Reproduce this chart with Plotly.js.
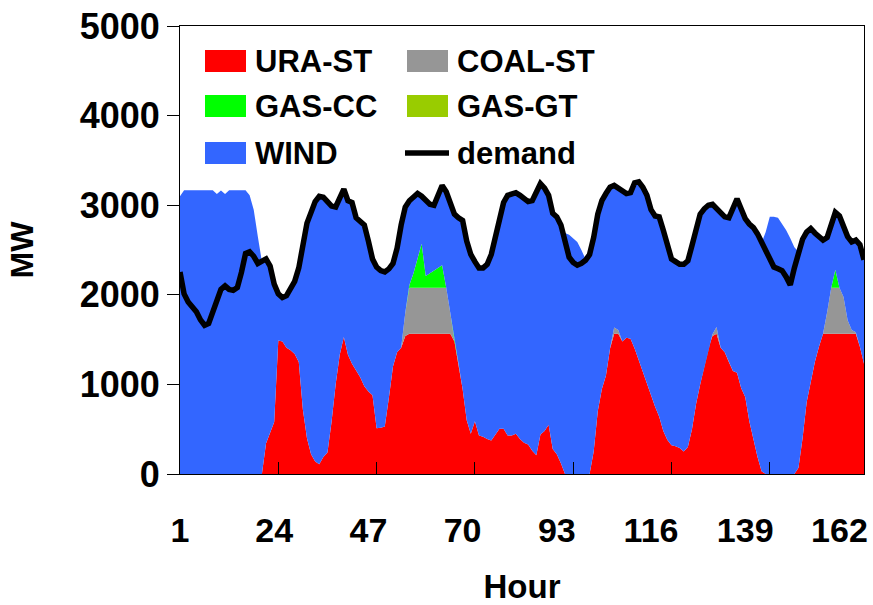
<!DOCTYPE html>
<html>
<head>
<meta charset="utf-8">
<script src="https://cdn.plot.ly/plotly-3.0.1.min.js"></script>
<style>
html,body{margin:0;padding:0;background:#ffffff;}
#chart{width:873px;height:605px;}
</style>
</head>
<body>
<div id="chart"></div>
<script>
// ---- data ----
const hours = [];
for (let h = 1; h <= 168; h++) hours.push(h);

const tickLabels = [1, 24, 47, 70, 93, 116, 139, 162];
const tickMarks = [25, 49, 73, 97, 121, 145];
const yTicks = [0, 1000, 2000, 3000, 4000, 5000];

const uraSt = [
  0,0,0,0,0,0,0,0,0,0,
  0,0,0,0,0,0,0,0,0,0,
  0,340,460,580,1490,1480,1410,1380,1340,1250,
  720,400,220,140,110,190,240,580,1000,1330,
  1530,1330,1230,1150,1080,980,920,880,510,515,
  530,850,1200,1360,1410,1540,1566,1566,1566,1566,
  1566,1566,1566,1566,1566,1566,1566,1480,1230,950,
  600,450,590,430,415,390,375,440,505,505,
  430,430,450,390,350,330,260,210,440,480,
  550,280,220,120,0,0,0,0,0,0,
  0,250,700,950,1100,1400,1566,1566,1480,1520,
  1510,1400,1270,1130,1000,870,750,640,480,380,
  320,310,290,250,300,500,780,1000,1190,1400,
  1540,1566,1410,1360,1250,1150,1130,960,860,590,
  390,190,30,0,0,0,0,0,0,0,
  0,70,400,800,1030,1250,1420,1566,1566,1566,
  1566,1566,1566,1566,1566,1566,1420,1230
];

const coalSt = [
  0,0,0,0,0,0,0,0,0,0,
  0,0,0,0,0,0,0,0,0,0,
  0,0,0,0,0,0,0,0,0,0,
  0,0,0,0,0,0,0,0,0,0,
  0,0,0,0,0,0,0,0,0,0,
  0,0,0,0,0,260,514,514,514,514,
  514,514,514,514,514,514,230,0,0,0,
  0,0,0,0,0,0,0,0,0,0,
  0,0,0,0,0,0,0,0,0,0,
  0,0,0,0,0,0,0,0,0,0,
  0,0,0,0,0,0,70,40,0,0,
  0,0,0,0,0,0,0,0,0,0,
  0,0,0,0,0,0,0,0,0,0,
  20,75,0,0,0,0,0,0,0,0,
  0,0,0,0,0,0,0,0,0,0,
  0,0,0,0,0,0,0,0,240,514,
  514,514,410,150,40,15,0,0
];

const gasCc = [
  0,0,0,0,0,0,0,0,0,0,
  0,0,0,0,0,0,0,0,0,0,
  0,0,0,0,0,0,0,0,0,0,
  0,0,0,0,0,0,0,0,0,0,
  0,0,0,0,0,0,0,0,0,0,
  0,0,0,0,0,0,30,160,320,490,
  130,160,190,220,250,0,0,0,0,0,
  0,0,0,0,0,0,0,0,0,0,
  0,0,0,0,0,0,0,0,0,0,
  0,0,0,0,0,0,0,0,0,0,
  0,0,0,0,0,0,0,0,0,0,
  0,0,0,0,0,0,0,0,0,0,
  0,0,0,0,0,0,0,0,0,0,
  0,0,0,0,0,0,0,0,0,0,
  0,0,0,0,0,0,0,0,0,0,
  0,0,0,0,0,0,0,0,0,0,
  200,0,0,0,0,0,0,0
];

const gasGt = [
  0,0,0,0,0,0,0,0,0,0,
  0,0,0,0,0,0,0,0,0,0,
  0,0,0,0,0,0,0,0,0,0,
  0,0,0,0,0,0,0,0,0,0,
  0,0,0,0,0,0,0,0,0,0,
  0,0,0,0,0,0,0,0,0,0,
  0,0,0,0,0,0,0,0,0,0,
  0,0,0,0,0,0,0,0,0,0,
  0,0,0,0,0,0,0,0,0,0,
  0,0,0,0,0,0,0,0,0,0,
  0,0,0,0,0,0,0,0,0,0,
  0,0,0,0,0,0,0,0,0,0,
  0,0,0,0,0,0,0,0,0,0,
  0,0,0,0,0,0,0,0,0,0,
  0,0,0,0,0,0,0,0,0,0,
  0,0,0,0,0,0,0,0,0,0,
  0,0,0,0,0,0,0,0
];

const wind = [
  3100,3168,3168,3168,3168,3168,3168,3168,3168,3125,
  3165,3125,3168,3168,3168,3168,3168,3110,2950,2650,
  2370,2060,1860,1540,520,490,580,680,810,1050,
  1860,2400,2700,2900,2990,2900,2800,2410,1980,1750,
  1650,1720,1800,1710,1730,1800,1680,1520,1800,1755,
  1725,1440,1150,1160,1370,1180,940,860,730,530,
  840,770,730,800,890,1070,1204,1420,1630,1880,
  2000,2000,1780,1870,1885,1950,2075,2210,2375,2525,
  2680,2700,2690,2720,2720,2710,2790,2940,2800,2710,
  2560,2630,2650,2660,2690,2670,2630,2590,2500,2400,
  2450,2390,2200,2100,2030,1800,1584,1584,1670,1610,
  1630,1850,1990,2070,2110,2080,2130,2230,2240,2150,
  2080,2060,2050,2090,2080,2050,1970,1900,1770,1600,
  1450,1329,1510,1510,1610,1810,1940,2000,1990,2200,
  2360,2490,2550,2700,2870,2870,2860,2790,2720,2630,
  2530,2410,2220,1900,1710,1440,1220,1044,834,700,
  640,800,804,934,984,1029,1140,1160
];

const demand = [
  2255,2010,1920,1870,1810,1720,1660,1680,1800,1960,
  2060,2100,2060,2050,2080,2250,2460,2480,2430,2350,
  2370,2400,2320,2120,2010,1970,1990,2060,2150,2300,
  2580,2800,2920,3040,3100,3090,3040,2990,2980,3080,
  3180,3050,3030,2860,2810,2780,2600,2400,2310,2270,
  2255,2290,2350,2520,2780,2980,3050,3100,3130,3100,
  3050,3010,3000,3100,3220,3150,3000,2900,2860,2830,
  2600,2450,2370,2300,2300,2340,2450,2650,2880,3030,
  3110,3130,3140,3110,3070,3040,3050,3150,3240,3190,
  3110,2910,2870,2780,2600,2420,2360,2330,2350,2385,
  2450,2640,2900,3050,3130,3200,3220,3190,3150,3130,
  3140,3250,3260,3200,3110,2950,2880,2870,2720,2530,
  2400,2370,2340,2340,2380,2550,2750,2900,2960,3000,
  3010,2970,2920,2870,2860,2960,3070,2960,2850,2790,
  2750,2680,2580,2480,2390,2310,2290,2270,2200,2110,
  2300,2480,2620,2700,2740,2690,2640,2610,2640,2780,
  2920,2880,2780,2650,2590,2610,2560,2390
];

const seriesNames = ['URA-ST', 'COAL-ST', 'GAS-CC', 'GAS-GT', 'WIND', 'demand'];
const seriesColors = ['#FF0000', '#969696', '#00FF00', '#99CC00', '#3366FF', '#000000'];

// ---- chart ----
const FONT = 'Arial, "Liberation Sans", Helvetica, sans-serif';
const stackValues = [uraSt, coalSt, gasCc, gasGt, wind];

const traces = stackValues.map((vals, i) => ({
  type: 'scatter',
  mode: 'lines',
  x: hours,
  y: vals,
  name: seriesNames[i],
  stackgroup: 'gen',
  fillcolor: seriesColors[i],
  line: {width: 0, color: seriesColors[i]},
  showlegend: false,
  hoverinfo: 'skip'
}));

traces.push({
  type: 'scatter',
  mode: 'lines',
  x: hours,
  y: demand,
  name: seriesNames[5],
  line: {color: seriesColors[5], width: 5.5},
  showlegend: false,
  hoverinfo: 'skip'
});

// dummy trace to carry the tick-mark axis
traces.push({type: 'scatter', x: [], y: [], xaxis: 'x2', yaxis: 'y', showlegend: false, hoverinfo: 'skip'});

// plot-area geometry helpers (pixel -> paper)
const L = 180, R = 9, T = 26, B = 131;
const W = 873 - L - R, H = 605 - T - B;
const fx = p => (p - L) / W;
const fy = p => (605 - B - p) / H;

// custom legend
const shapes = [];
const annotations = [];
const legendCols = [205, 407];
const legendRows = [61, 106, 153];
for (let i = 0; i < 6; i++) {
  const col = i % 2, row = Math.floor(i / 2);
  const x0 = legendCols[col];
  const yc = legendRows[row];
  if (i < 5) {
    shapes.push({type: 'rect', xref: 'paper', yref: 'paper',
      x0: fx(x0), x1: fx(x0 + 41), y0: fy(yc + 11), y1: fy(yc - 11),
      fillcolor: seriesColors[i], line: {width: 0}});
  } else {
    shapes.push({type: 'line', xref: 'paper', yref: 'paper',
      x0: fx(x0 - 2), x1: fx(x0 + 42), y0: fy(yc), y1: fy(yc),
      line: {color: seriesColors[i], width: 5.5}});
  }
  annotations.push({xref: 'paper', yref: 'paper', x: fx(x0 + 48), y: fy(yc),
    xanchor: 'left', yanchor: 'middle', showarrow: false, text: seriesNames[i],
    font: {family: FONT, size: 31, weight: 'bold', color: '#000'}});
}

const layout = {
  width: 873, height: 605,
  margin: {l: L, r: R, t: T, b: B, pad: 0},
  paper_bgcolor: '#ffffff', plot_bgcolor: '#ffffff',
  showlegend: false,
  hovermode: false,
  font: {family: FONT, color: '#000'},
  xaxis: {
    range: [1, 168],
    tickmode: 'array', tickvals: tickLabels, ticktext: tickLabels.map(String),
    ticks: '', ticklabelstandoff: 26,
    tickfont: {family: FONT, size: 34, weight: 'bold', color: '#000'},
    showline: true, linecolor: '#000', linewidth: 1, mirror: true,
    showgrid: false, zeroline: false,
    title: {text: 'Hour', font: {family: FONT, size: 33, weight: 'bold', color: '#000'}, standoff: 34}
  },
  xaxis2: {
    overlaying: 'x', anchor: 'y', side: 'bottom',
    range: [1, 168],
    tickmode: 'array', tickvals: tickMarks,
    ticks: 'inside', ticklen: 12, tickwidth: 1, tickcolor: '#000',
    showticklabels: false, showline: false, showgrid: false, zeroline: false
  },
  yaxis: {
    range: [0, 5000],
    tickmode: 'array', tickvals: yTicks, ticktext: yTicks.map(String),
    ticks: 'outside', ticklen: 12, tickwidth: 1, tickcolor: '#000',
    tickfont: {family: FONT, size: 36, weight: 'bold', color: '#000'},
    showline: true, linecolor: '#000', linewidth: 1, mirror: true,
    showgrid: false, zeroline: false,
    title: {text: 'MW', font: {family: FONT, size: 32, weight: 'bold', color: '#000'}, standoff: 36}
  },
  shapes: shapes,
  annotations: annotations
};

Plotly.newPlot('chart', traces, layout, {displayModeBar: false, staticPlot: true});
</script>
</body>
</html>
